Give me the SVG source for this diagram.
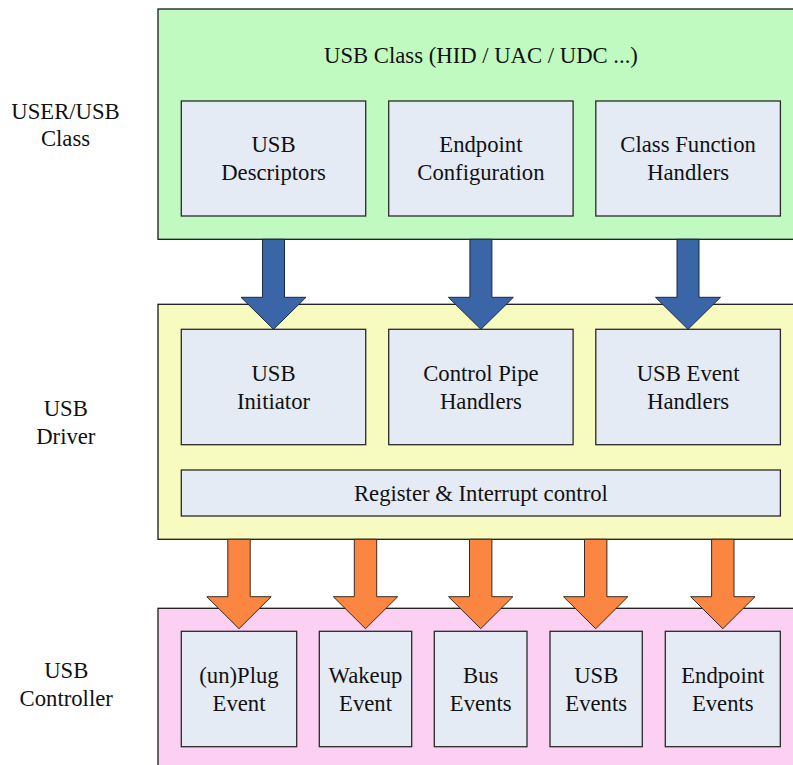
<svg xmlns="http://www.w3.org/2000/svg" width="793" height="765" viewBox="0 0 793 765">
<style>
text{font-family:'Liberation Serif','Times New Roman','DejaVu Serif',Times,serif;font-size:22.7px;fill:#111;text-anchor:middle}
.outer{stroke:#1a1a1a;stroke-width:1.3}
.inner{fill:#E4EBF5;stroke:#2a2a2a;stroke-width:1.3}
.blue{fill:#3A65A6;stroke:#1a2a40;stroke-width:1}
.orange{fill:#FB8642;stroke:#3a2a20;stroke-width:1}
</style>
<rect width="793" height="765" fill="#fff"/>
<g id="label-user">
<text x="65.5" y="119.3">USER/USB</text>
<text x="65.5" y="145.7">Class</text>
</g>
<g id="label-driver">
<text x="65.8" y="416">USB</text>
<text x="65.8" y="444">Driver</text>
</g>
<g id="label-controller">
<text x="66.2" y="678.3">USB</text>
<text x="66.2" y="706">Controller</text>
</g>
<g id="usb-class">
<rect class="outer" x="158" y="9" width="660" height="230.3" fill="#C0FAC0"/>
<text x="481" y="62.7">USB Class (HID / UAC / UDC ...)</text>
</g>
<g id="usb-driver-layer">
<rect class="outer" x="158" y="304.3" width="660" height="235" fill="#F7FBC0"/>
</g>
<g id="usb-controller-layer">
<rect class="outer" x="158" y="608.3" width="660" height="170" fill="#FCD0F2"/>
</g>
<g id="connectors">
<polygon class="blue" points="262.5,239.3 284.5,239.3 284.5,297.3 306,297.3 273.5,329.3 241,297.3 262.5,297.3"/>
<polygon class="blue" points="469.9,239.3 491.9,239.3 491.9,297.3 513.4,297.3 480.9,329.3 448.4,297.3 469.9,297.3"/>
<polygon class="blue" points="677,239.3 699,239.3 699,297.3 720.5,297.3 688,329.3 655.5,297.3 677,297.3"/>
<polygon class="orange" points="227.8,539.3 250.2,539.3 250.2,596.7 271.2,596.7 239,628.7 206.8,596.7 227.8,596.7"/>
<polygon class="orange" points="354.3,539.3 376.7,539.3 376.7,596.7 397.7,596.7 365.5,628.7 333.3,596.7 354.3,596.7"/>
<polygon class="orange" points="469.5,539.3 491.9,539.3 491.9,596.7 512.9,596.7 480.7,628.7 448.5,596.7 469.5,596.7"/>
<polygon class="orange" points="584.5,539.3 606.9,539.3 606.9,596.7 627.9,596.7 595.7,628.7 563.5,596.7 584.5,596.7"/>
<polygon class="orange" points="711.6,539.3 734,539.3 734,596.7 755,596.7 722.8,628.7 690.6,596.7 711.6,596.7"/>
</g>
<g id="usb-descriptors">
<rect class="inner" x="181.3" y="101" width="184.4" height="115"/>
<text x="273.5" y="152.2">USB</text>
<text x="273.5" y="180.2">Descriptors</text>
</g>
<g id="endpoint-configuration">
<rect class="inner" x="388.7" y="101" width="184.4" height="115"/>
<text x="480.9" y="152.2">Endpoint</text>
<text x="480.9" y="180.2">Configuration</text>
</g>
<g id="class-function-handlers">
<rect class="inner" x="595.8" y="101" width="184.6" height="115"/>
<text x="688.1" y="152.2">Class Function</text>
<text x="688.1" y="180.2">Handlers</text>
</g>
<g id="usb-initiator">
<rect class="inner" x="181.3" y="329.3" width="184.4" height="115.4"/>
<text x="273.5" y="380.7">USB</text>
<text x="273.5" y="408.7">Initiator</text>
</g>
<g id="control-pipe-handlers">
<rect class="inner" x="388.7" y="329.3" width="184.4" height="115.4"/>
<text x="480.9" y="380.7">Control Pipe</text>
<text x="480.9" y="408.7">Handlers</text>
</g>
<g id="usb-event-handlers">
<rect class="inner" x="595.8" y="329.3" width="184.6" height="115.4"/>
<text x="688.1" y="380.7">USB Event</text>
<text x="688.1" y="408.7">Handlers</text>
</g>
<g id="register-interrupt-control">
<rect class="inner" x="181.3" y="470" width="599.1" height="46"/>
<text x="480.9" y="500.7">Register &amp; Interrupt control</text>
</g>
<g id="plug-event">
<rect class="inner" x="181.3" y="631.3" width="115.4" height="115.4"/>
<text x="239" y="682.7">(un)Plug</text>
<text x="239" y="710.7">Event</text>
</g>
<g id="wakeup-event">
<rect class="inner" x="319.3" y="631.3" width="92.4" height="115.4"/>
<text x="365.5" y="682.7">Wakeup</text>
<text x="365.5" y="710.7">Event</text>
</g>
<g id="bus-events">
<rect class="inner" x="434.3" y="631.3" width="92.7" height="115.4"/>
<text x="480.7" y="682.7">Bus</text>
<text x="480.7" y="710.7">Events</text>
</g>
<g id="usb-events">
<rect class="inner" x="550" y="631.3" width="92.3" height="115.4"/>
<text x="596.2" y="682.7">USB</text>
<text x="596.2" y="710.7">Events</text>
</g>
<g id="endpoint-events">
<rect class="inner" x="665.3" y="631.3" width="115" height="115.4"/>
<text x="722.8" y="682.7">Endpoint</text>
<text x="722.8" y="710.7">Events</text>
</g>
</svg>
